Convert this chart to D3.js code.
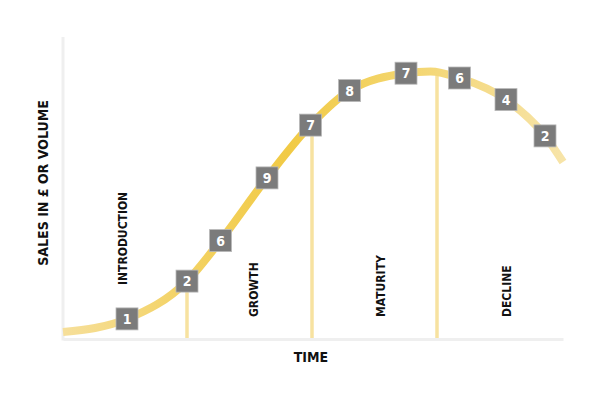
<!DOCTYPE html>
<html>
<head>
<meta charset="utf-8">
<script src="https://cdn.jsdelivr.net/npm/d3@7"></script>
<style>
  html, body { margin: 0; padding: 0; background: #fff; }
  svg { display: block; }
  text { font-family: "DejaVu Sans Condensed", "DejaVu Sans", sans-serif; font-stretch: condensed; font-weight: bold; }
</style>
</head>
<body>
<svg id="chart" width="600" height="400"></svg>
<script>
// ---- data ----
// curve points: time (0-100) and sales (0-100)
const curveTime  = [0, 12.8, 24.8, 31.5, 40.8, 49.5, 57.3, 68.6, 73.5, 79.3, 88.6, 96.4, 100];
const curveSales = [2.3, 6.7, 19.3, 32.8, 53.7, 71.3, 82.8, 88.6, 89.2, 87.0, 79.8, 67.7, 59];
// numbered markers along the curve
const markerTime   = [12.8, 24.8, 31.5, 40.8, 49.5, 57.3, 68.6, 79.3, 88.6, 96.4];
const markerSales  = [6.7, 19.3, 32.8, 53.7, 71.3, 82.8, 88.6, 87.0, 79.8, 67.7];
const markerLabels = ["1", "2", "6", "9", "7", "8", "7", "6", "4", "2"];
// stages
const stageNames      = ["INTRODUCTION", "GROWTH", "MATURITY", "DECLINE"];
const stageBoundaries = [0, 24.8, 49.8, 74.8, 100];
const boundarySales   = [19.3, 71.3, 88.9];
const xTitle = "TIME";
const yTitle = "SALES IN £ OR VOLUME";

// ---- chart ----
const svg = d3.select("#chart");
const x = d3.scaleLinear().domain([0, 100]).range([63, 563]);
const y = d3.scaleLinear().domain([0, 100]).range([339, 39]);

// gradient for curve
const defs = svg.append("defs");
const grad = defs.append("linearGradient")
  .attr("id", "curveGrad").attr("gradientUnits", "userSpaceOnUse")
  .attr("x1", x(0)).attr("x2", x(100)).attr("y1", 0).attr("y2", 0);
[[0, "#f6df9a"], [0.25, "#f3d263"], [0.45, "#f1ca45"], [0.65, "#f3d468"], [0.85, "#f5dc8c"], [1, "#f7e4a8"]]
  .forEach(([o, c]) => grad.append("stop").attr("offset", o).attr("stop-color", c));

// axes (plain light lines, no ticks)
const xAxis = d3.axisBottom(x).tickValues([]).tickSizeOuter(0);
const yAxis = d3.axisLeft(y).tickValues([]).tickSizeOuter(0);
const gx = svg.append("g").attr("transform", `translate(0,${y(0)})`).call(xAxis);
const gy = svg.append("g").attr("transform", `translate(${x(0)},0)`).call(yAxis);
gy.select(".domain").attr("d", `M0,${y(0) + 1.5}V${y(100) - 2}`);
[gx, gy].forEach(g => g.select(".domain").attr("stroke", "#efefef").attr("stroke-width", 3));

// stage boundary lines
svg.append("g").selectAll("line")
  .data(stageBoundaries.slice(1, -1))
  .join("line")
  .attr("x1", d => x(d)).attr("x2", d => x(d))
  .attr("y1", (d, i) => y(boundarySales[i])).attr("y2", y(0) - 1)
  .attr("stroke", "#f7e2a0").attr("stroke-width", 3.5);

// curve
const pts = curveTime.map((t, i) => [t, curveSales[i]]);
const line = d3.line().x(d => x(d[0])).y(d => y(d[1])).curve(d3.curveMonotoneX);
svg.append("path").datum(pts)
  .attr("d", line)
  .attr("fill", "none")
  .attr("stroke", "url(#curveGrad)")
  .attr("stroke-width", 8);

// stage labels
const stageDx = [-2, 4, 6, 6.5];
const stageBottom = [285, 317, 317, 317];
svg.append("g").selectAll("text")
  .data(stageNames)
  .join("text")
  .attr("transform", (d, i) => {
    const cx = (x(stageBoundaries[i]) + x(stageBoundaries[i + 1])) / 2 + stageDx[i];
    return `translate(${cx},${stageBottom[i]}) rotate(-90)`;
  })
  .attr("dy", "0.36em")
  .attr("text-anchor", "start")
  .attr("font-size", 12)
  .attr("fill", "#111")
  .text(d => d);

// markers
const mk = svg.append("g").selectAll("g")
  .data(markerLabels)
  .join("g")
  .attr("transform", (d, i) => `translate(${x(markerTime[i])},${y(markerSales[i])})`);
mk.append("rect")
  .attr("x", -11).attr("y", -11).attr("width", 22).attr("height", 22)
  .attr("fill", "#7b7b7b").attr("stroke", "#b9b9b9").attr("stroke-width", 0.8);
mk.append("text")
  .attr("text-anchor", "middle").attr("dy", "0.36em")
  .attr("font-size", 14).attr("fill", "#fff")
  .text(d => d);

// axis titles
svg.append("text")
  .attr("x", (x(0) + x(100)) / 2 - 2).attr("y", 362)
  .attr("text-anchor", "middle").attr("font-size", 14).attr("fill", "#111")
  .text(xTitle);
svg.append("text")
  .attr("transform", `translate(47.5,183) rotate(-90)`)
  .attr("text-anchor", "middle").attr("font-size", 14).attr("fill", "#111")
  .text(yTitle);
</script>
</body>
</html>
